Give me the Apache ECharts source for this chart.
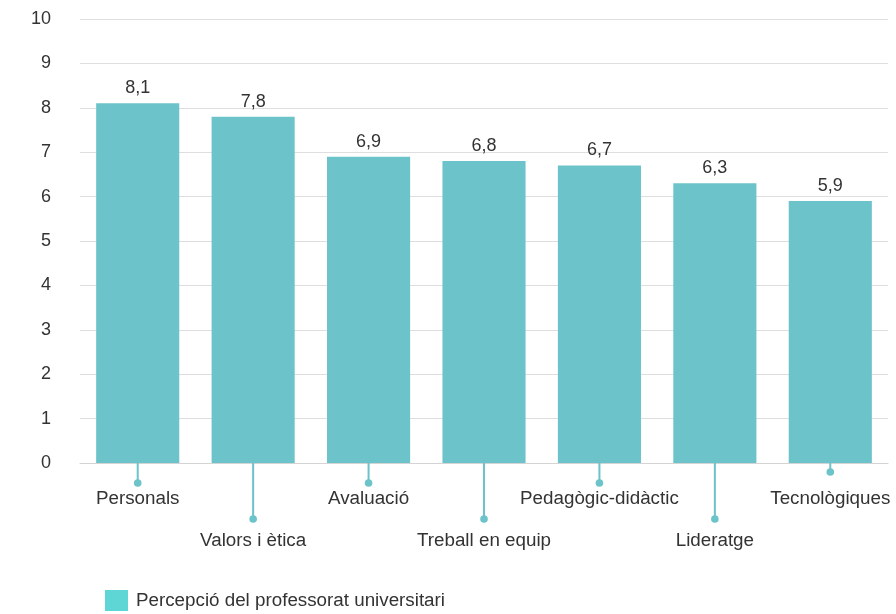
<!DOCTYPE html>
<html>
<head>
<meta charset="utf-8">
<style>
  html, body { margin: 0; padding: 0; background: #ffffff; }
  #chart { width: 896px; height: 614px; }
</style>
<script src="https://cdn.jsdelivr.net/npm/echarts@6/dist/echarts.min.js"></script>
</head>
<body>
<div id="chart"></div>
<script>
// Competències valorades pel professorat universitari (escala 0–10)
const CATEGORIES = [
  'Personals', 'Valors i ètica', 'Avaluació', 'Treball en equip',
  'Pedagògic-didàctic', 'Lideratge', 'Tecnològiques'
];
const VALUES = [8.1, 7.8, 6.9, 6.8, 6.7, 6.3, 5.9];
const SERIES_NAME = 'Percepció del professorat universitari';
const Y_TICKS = { min: 0, max: 10, step: 1 };

// Styling
const BAR_COLOR = '#6cc3c9';
const LEGEND_COLOR = '#5fd6d6';
const TEXT_COLOR = '#333333';
const GRID_COLOR = '#dedede';
const FONT = '"Liberation Sans", Arial, sans-serif';
// Length (px) of the leader line under each category label
const LEADER_LEN = [20, 56, 20, 56, 20, 56, 9];

const fmt = v => String(v).replace('.', ',');

const chart = echarts.init(document.getElementById('chart'), null, { renderer: 'canvas' });

chart.setOption({
  animation: false,
  textStyle: { fontFamily: FONT },
  grid: { left: 80, right: 8, top: 19, bottom: 151, containLabel: false },
  legend: {
    left: 105,
    top: 590,
    padding: 0,
    icon: 'rect',
    itemWidth: 23,
    itemHeight: 21,
    itemGap: 20,
    textStyle: { fontSize: 18.8, color: TEXT_COLOR, fontFamily: FONT, padding: [3, 0, 0, 3] },
    data: [{ name: SERIES_NAME, itemStyle: { color: LEGEND_COLOR } }]
  },
  xAxis: {
    type: 'category',
    data: CATEGORIES,
    axisLine: { show: true, lineStyle: { color: '#d4d4d4', width: 1 } },
    axisTick: { show: false },
    axisLabel: {
      interval: 0,
      margin: 15,
      color: TEXT_COLOR,
      fontSize: 18.8,
      lineHeight: 42,
      fontFamily: FONT,
      // every second label drops one row so neighbours don't collide
      formatter: (v, i) => (i % 2 ? '\n' + v : v)
    }
  },
  yAxis: {
    type: 'value',
    min: Y_TICKS.min,
    max: Y_TICKS.max,
    interval: Y_TICKS.step,
    axisLine: { show: false },
    axisTick: { show: false },
    splitLine: { lineStyle: { color: GRID_COLOR, width: 1 } },
    axisLabel: { margin: 29, color: TEXT_COLOR, fontSize: 18, fontFamily: FONT }
  },
  series: [
    {
      name: SERIES_NAME,
      type: 'bar',
      data: VALUES,
      barCategoryGap: '28%',
      itemStyle: { color: BAR_COLOR },
      label: {
        show: true,
        position: 'top',
        distance: 6,
        color: TEXT_COLOR,
        fontSize: 18,
        fontFamily: FONT,
        formatter: p => fmt(p.value)
      }
    },
    {
      // Leader lines with end dots linking each bar to its category label
      name: 'leaders',
      type: 'custom',
      clip: false,
      silent: true,
      data: CATEGORIES.map((c, i) => [i, 0]),
      renderItem: (params, api) => {
        const p = api.coord([api.value(0), 0]);
        const len = LEADER_LEN[params.dataIndex];
        return {
          type: 'group',
          children: [
            {
              type: 'line',
              shape: { x1: p[0], y1: p[1], x2: p[0], y2: p[1] + len },
              style: { stroke: BAR_COLOR, lineWidth: 2 }
            },
            {
              type: 'circle',
              shape: { cx: p[0], cy: p[1] + len, r: 3.8 },
              style: { fill: BAR_COLOR }
            }
          ]
        };
      }
    }
  ]
});
</script>
</body>
</html>
